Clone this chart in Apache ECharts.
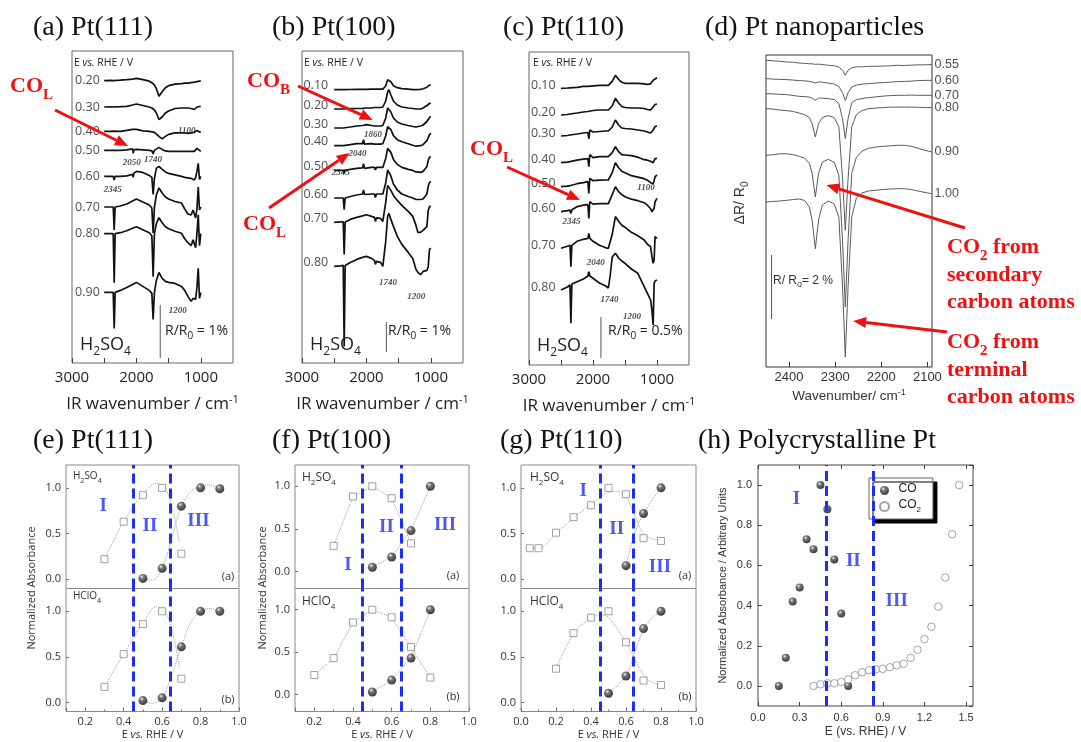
<!DOCTYPE html>
<html>
<head>
<meta charset="utf-8">
<script src="https://cdn.jsdelivr.net/npm/echarts@6/dist/echarts.min.js"></script>
<style>
html, body { margin: 0; padding: 0; background: #fff; }
#chart { width: 1081px; height: 742px; }
</style>
</head>
<body>
<div id="chart"></div>
<script>
// ---------------- (a) Pt(111) in H2SO4 : IR spectra ----------------
const aWavenumbers = [2500, 2400, 2360, 2345, 2330, 2250, 2150, 2060, 2050, 2040, 2000, 1900, 1800, 1760, 1740, 1720, 1690, 1650, 1600, 1550, 1500, 1400, 1300, 1250, 1200, 1150, 1120, 1100, 1080, 1060, 1040, 1020, 1000];
const aPotentials = ['0.20', '0.30', '0.40', '0.50', '0.60', '0.70', '0.80', '0.90'];
const aBaselines = [282.3, 256, 231.6, 212.6, 186.6, 156, 129.3, 70.6];
const aSpectra = [
  [0, 0.3, 0, 0, 0.2, 0.5, 1, 1.5, 1.8, 2, 2.3, 1, -0.5, -2, -3, -4.5, -8, -15.5, -11, -7, -5, -3.5, -3, -2.5, -2.5, -2, -1.5, -1.5, -1, -1, -0.5, -0.5, -0.5],
  [0, 0.2, 0, 0.3, 0, 0.3, 0.7, 2, 2.3, 2.7, 3, 1.5, 0, -1, -2, -3, -6, -12.5, -10, -6, -4, -1.5, -1, -1, -1, -1.5, -2, -2.5, -1.5, 0, 0.5, 0.5, 0.5],
  [0, 0, 0.3, -0.5, 0, 0, 1, 2, 0, 1.5, 2, 0.5, 0, -0.5, -1.5, -1, -2, -5, -7.5, -5, -3, -1.5, -1.5, -1.5, -2, -1.5, -1.5, -1, 0, 1, 0, -0.5, -0.5],
  [0, 0, 0, -0.5, 0, 0, 0.5, 1.5, -3, 0.5, 1, 0.5, 0, -0.5, -3.5, 0, 2, 3, 1, -0.5, -1, -1, -1, -1, -1, -1, -0.5, -1, 0, 2, 4, 0, -1],
  [0, 0, 0, -3.5, 0, 0, 0.5, 2, -1, 3, 5, 4, 1, -1, -18, -2, 8, 10, 7, 4.5, 3, 1.5, 0, -1, -1.5, -2, -2.5, -3.5, -1, 5, 13, -3, 0],
  [0, 0, 0, -23, 0, 1, 3, 6, 6.5, 7, 8, 5, 2, -1, -26, 0, 12, 19, 14, 10, 8, 5.5, 4, -2, -7, -8, -3, -4, -11, -2, 20, -3, 0],
  [0, 0, 0, -49, 0, 1, 3, 5.5, 6, 6.5, 7, 4, 1, -2, -43, 0, 10, 16, 11, 7, 5, 2.5, 0.5, -5, -9, -12, -6, -8, -14, 0, 19, -12, 0],
  [0, 0, 0, -36, 0, 2, 5, 8, 8.5, 9, 10, 6, 2, -1, -27, 0, 12, 20, 14, 11, 10, 9, 6, 2, -4, -9, -6, -5, -7, 5, 24, -6, 0]
];
const aBandNotes = [[2073, 200, '2050'], [1742, 203, '1740'], [2368, 173, '2345'], [1219, 232, '1100'], [1359, 52, '1200']];
const aScaleBar = [1630, 5, 58];

// ---------------- (b) Pt(100) in H2SO4 ----------------
const bWavenumbers = [2500, 2400, 2360, 2345, 2330, 2250, 2150, 2060, 2045, 2030, 2000, 1920, 1875, 1860, 1845, 1780, 1745, 1730, 1700, 1670, 1650, 1620, 1580, 1520, 1450, 1350, 1280, 1230, 1200, 1160, 1120, 1090, 1060, 1040, 1020, 1000];
const bPotentials = ['0.10', '0.20', '0.30', '0.40', '0.50', '0.60', '0.70', '0.80'];
const bBaselines = [273.3, 254, 235, 217.3, 192.6, 165, 140.6, 96.6];
const bSpectra = [
  [0, 0, 0, 0, 0, 0.2, 0.3, 0.3, 0.3, 0.3, 0.3, 0.5, 0.5, 0.5, 0.5, 0.5, 0.5, 1, 4, 10, 11.7, 8, 4, 2, 1, 0.5, 0, 0, 0, 0.3, 1, 1.5, 2.5, 3.5, 4.5, 5],
  [0, 0, 0, 0, 0, 0.3, 0.5, 0.7, 0.7, 0.7, 1, 1, 1.5, 1.5, 1.5, 1.5, 2, 3, 8, 17, 19.3, 14, 8, 4, 2, 1, 0.5, 0, 0, 0, 1, 2, 3.5, 4.5, 5.5, 6],
  [0, 0, 0, 0, 0.3, 1, 2, 2.5, 3, 3, 3.3, 2.5, 2, 0, 2, 2, 2.5, 3.5, 10, 20, 22, 16, 10, 6, 4, 2.5, 1.5, 1, 1.5, 2, 3, 4.5, 6.5, 8.5, 10.5, 11.7],
  [0, 0, 0, -0.5, 0, 1, 2, 2, 6, 1.5, 2, 2, 1.5, 0, 1.5, 1.5, 2, 3, 10, 19, 21, 16, 10, 6, 4, 2, 0.5, -0.5, -1, 0, 1, 3, 5, 8, 11, 12.7],
  [0, 0, 0, -2.7, 0, 1, 2, 2.5, 6.7, 2, 2.5, 3, 3, 0.5, 3, 3, 3, 4, 12, 22, 24, 18, 11, 6, 3, 1, 0, -1.5, -2, -2, -1, 0, 4, 10, 13, 14],
  [0, 0, 0, -11.7, 0, 1.5, 3, 4, 8, 3.5, 4, 4, 4, 0.5, 4, 4, 4, 5, 15, 28, 30, 22, 14, 8, 4, 1.5, 0, -1.5, -1.7, -1.5, -1, 0, 4, 12, 15.5, 16.7],
  [0, 0.5, 0.5, -32, 0.5, 3, 5, 6.5, 8, 7.5, 7.7, 6, 5, 1, 4.5, 4, 1, 2, 20, 37, 39, 32, 27, 22, 17, 11, 6, -3, -10, -10, -8, -9, -4, 12, 16, 16],
  [0, 0.5, 1, -80, 1, 4, 7, 9, 10, 10, 10, 8, 6, 2, 5, 4, 0, 2, 25, 50, 53, 47, 40, 30, 22, 14, 8, -3, -6, -8.3, -5, -6.7, -4, 0, 17, 18.3]
];
const bBandNotes = [[1897, 228, '1860'], [2140, 209, '2040'], [2399, 190, '2345'], [1665, 80, '1740'], [1224, 66, '1200']];
const bScaleBar = [1690, 11, 41];

// ---------------- (c) Pt(110) in H2SO4 ----------------
const cWavenumbers = [2500, 2400, 2360, 2345, 2330, 2250, 2150, 2080, 2065, 2050, 2000, 1900, 1800, 1760, 1745, 1730, 1700, 1650, 1600, 1550, 1500, 1400, 1300, 1200, 1150, 1100, 1080, 1060, 1045, 1030, 1000];
const cPotentials = ['0.10', '0.20', '0.30', '0.40', '0.50', '0.60', '0.70', '0.80'];
const cBaselines = [276.7, 250, 229, 202.3, 178.3, 153.3, 116.7, 75];
const cSpectra = [
  [0, 0.3, 0.5, 0.5, 0.5, 1, 2, 2, 1.5, 2, 2.5, 3, 3, 3, 3, 3.5, 7, 13, 9, 6, 5, 5, 5, 4.5, 4, 4.5, 6, 8, 9, 10, 10.5],
  [0, 0.5, 1, 1, 1, 2, 3, 3.5, 2, 4, 4.5, 5, 5, 5, 5, 5.5, 9, 16.7, 12, 8.5, 7.5, 7, 7, 6.5, 5.5, 5, 6, 8, 9.5, 10.5, 11],
  [0, 0.5, 1, 1, 1, 2, 3, 3.5, -3, 6, 4, 4.5, 5, 5, 5, 5.5, 9, 16, 11, 8, 7.5, 7, 6, 5, 4, 3, 4, 6, 8, 9.5, 10],
  [0, 0.5, 1, 1, 1.5, 2.5, 3.5, 4, -4, 8, 5, 6, 6, 6, 6, 6.5, 10, 16, 11, 8, 7.7, 7, 5.5, 3, 2.5, 1.5, -0.5, 0, 2, 4, 4.3],
  [0, 0.5, 1, 1, 1.5, 3, 4, 5, -6.7, 8.3, 6, 6.5, 6.7, 6.7, 6.7, 8, 14, 24, 19, 15.5, 14, 11, 9.5, 8, 6.5, 4, 3.3, 3, 6, 10, 11.7],
  [0, 1, 1.5, -1.7, 2, 5, 6.5, 7, -6.7, 10, 7.5, 8, 8, 8, 8, 10, 17, 25, 20, 17, 15, 12.5, 11, 9, 6.5, 3, 0, 1, 3.3, 10, 13.3],
  [0, 2, 3, -18.3, 3, 7, 9, 10, 15, 10, 7, 3, 0.5, 0, 0, 2, 14, 31.7, 27, 23, 21, 16, 12.5, 8.3, 4, 1.7, -8, -15, -11.7, 11.7, 10],
  [0, 3, 5, -33.3, 6, 8.3, 11, 14, 18.3, 14, 11.7, 7, 4, 2, 1.7, 15, 33, 36.7, 32, 29, 26.7, 21, 16.7, 3.3, -3.3, -10, -20, -35, 6.7, 9, 10]
];
const cBandNotes = [[1173, 177, '1100'], [2334, 143, '2345'], [1958, 102, '2040'], [1744, 65, '1740'], [1392, 48, '1200']];
const cScaleBar = [1876, 7, 48];

// ---------------- (d) Pt nanoparticles : CO2 band ----------------
const dWavenumbers = [2450, 2435, 2420, 2405, 2390, 2378, 2366, 2356, 2350, 2343, 2336, 2328, 2315, 2302, 2292, 2284, 2278, 2272, 2264, 2254, 2242, 2228, 2212, 2196, 2180, 2165, 2150, 2135, 2120, 2105, 2090];
const dPotentials = ['0.55', '0.60', '0.70', '0.80', '0.90', '1.00'];
const dBaselines = [306.7, 288.4, 273.4, 258.4, 211.7, 165];
const dSpectra = [
  [0, -0.5, -1, -1.7, -2, -2.8, -3, -3.5, -3.5, -4, -3.8, -4.2, -5, -5.5, -6.7, -10, -15, -10, -7.5, -6.5, -6.5, -6, -6, -5.7, -5.5, -5, -5.2, -4.8, -4.6, -4.5, -4.3],
  [0, -0.5, -0.8, -1, -1.5, -2, -2.3, -2.8, -3.3, -4.5, -3.3, -3.5, -4.5, -5.5, -8, -14, -22, -14, -8.5, -6.5, -5.5, -5, -4.5, -4, -3.5, -3, -2.8, -2.5, -2, -1.8, -1.7],
  [0, -0.3, -0.7, -1, -2, -2.7, -3, -3.5, -4.5, -6.7, -4.5, -4.5, -5, -6, -10, -25, -45, -25, -9, -6, -5, -4, -3.3, -2.5, -2, -1.7, -1.7, -1.5, -1.7, -1.7, -1.7],
  [0, -0.5, -1.5, -2, -3, -4.5, -6, -9, -15, -28.3, -15, -9, -7, -9, -18, -70, -121.7, -70, -18, -6, -2, 0, 0.5, 1, 1.5, 1.5, 1.5, 1.5, 1.3, 1, 1],
  [0, 0.5, 1.5, 1.5, 0.5, -1, -3, -8, -18, -41.7, -18, -7, -4, -7, -20, -85, -151.7, -85, -18, -2, 4, 7, 8.3, 9, 9.5, 10, 10, 9, 7, 5, 3.3],
  [0, 0.5, 1, 1.7, 2.5, 3, 1.5, -5, -18, -46.7, -18, -3, 1, -2, -15, -85, -155, -85, -15, 4, 9, 11, 11.7, 12.5, 13, 13.3, 13.3, 12.5, 11, 9.5, 8.3]
];
const dScaleBar = [2438, 48, 112];

// ---------------- (e) Pt(111) normalized absorbance ----------------
const eH2SO4Squares = [[0.3, 0.22], [0.4, 0.63], [0.5, 0.92], [0.6, 1.0], [0.7, 0.28]];
const eH2SO4Dots = [[0.5, 0.01], [0.6, 0.12], [0.7, 0.80], [0.8, 1.0], [0.9, 0.99]];
const eH2SO4SquareTrend = [[0.3, 0.22], [0.4, 0.63], [0.5, 0.93], [0.57, 1.05], [0.62, 0.98], [0.66, 0.72], [0.69, 0.4]];
const eH2SO4DotTrend = [[0.5, 0.01], [0.55, -0.01], [0.6, 0.12], [0.65, 0.45], [0.7, 0.8], [0.75, 0.96], [0.8, 1.02], [0.85, 1.03], [0.9, 0.99]];
const eHClO4Squares = [[0.3, 0.17], [0.4, 0.53], [0.5, 0.86], [0.6, 1.0], [0.7, 0.26]];
const eHClO4Dots = [[0.5, 0.02], [0.6, 0.05], [0.7, 0.61], [0.8, 1.0], [0.9, 1.0]];
const eHClO4SquareTrend = [[0.3, 0.17], [0.4, 0.53], [0.5, 0.87], [0.57, 1.05], [0.62, 0.98], [0.66, 0.72], [0.69, 0.38]];
const eHClO4DotTrend = [[0.5, 0.02], [0.55, -0.01], [0.6, 0.05], [0.65, 0.3], [0.7, 0.61], [0.75, 0.88], [0.8, 1.0], [0.85, 1.03], [0.9, 1.0]];
const eRegionLimits = [0.45, 0.64];

// ---------------- (f) Pt(100) ----------------
const fH2SO4Squares = [[0.3, 0.30], [0.4, 0.88], [0.5, 1.0], [0.6, 0.86], [0.7, 0.33]];
const fH2SO4Dots = [[0.5, 0.05], [0.6, 0.17], [0.7, 0.48], [0.8, 1.0]];
const fHClO4Squares = [[0.2, 0.23], [0.3, 0.43], [0.4, 0.85], [0.5, 1.0], [0.6, 0.91], [0.7, 0.56], [0.8, 0.2]];
const fHClO4Dots = [[0.5, 0.03], [0.6, 0.17], [0.7, 0.43], [0.8, 1.0]];
const fRegionLimits = [0.45, 0.65];

// ---------------- (g) Pt(110) ----------------
const gH2SO4Squares = [[0.05, 0.34], [0.1, 0.34], [0.2, 0.51], [0.3, 0.68], [0.4, 0.81], [0.5, 1.0], [0.6, 0.93], [0.7, 0.45], [0.8, 0.42]];
const gH2SO4Dots = [[0.6, 0.15], [0.7, 0.72], [0.8, 1.0]];
const gH2SO4SquareTrend = [[0.05, 0.34], [0.1, 0.34], [0.2, 0.5], [0.3, 0.67], [0.4, 0.82], [0.5, 0.95], [0.55, 0.96], [0.6, 0.9], [0.65, 0.7], [0.7, 0.5], [0.75, 0.44], [0.8, 0.42]];
const gH2SO4DotTrend = [[0.6, 0.15], [0.64, 0.44], [0.7, 0.72], [0.8, 1.0]];
const gHClO4Squares = [[0.2, 0.37], [0.3, 0.76], [0.4, 0.93], [0.5, 1.0], [0.6, 0.66], [0.7, 0.24], [0.8, 0.19]];
const gHClO4Dots = [[0.5, 0.10], [0.6, 0.29], [0.7, 0.81], [0.8, 1.0]];
const gHClO4SquareTrend = [[0.2, 0.37], [0.3, 0.75], [0.4, 0.93], [0.45, 0.96], [0.5, 0.93], [0.6, 0.66], [0.65, 0.48], [0.7, 0.3], [0.75, 0.22], [0.8, 0.19]];
const gHClO4DotTrend = [[0.5, 0.1], [0.6, 0.29], [0.65, 0.55], [0.7, 0.8], [0.75, 0.93], [0.8, 1.0]];
const gRegionLimits = [0.45, 0.64];

// ---------------- (h) Polycrystalline Pt ----------------
const hCOPotentials = [0.15, 0.20, 0.25, 0.30, 0.35, 0.40, 0.45, 0.50, 0.55, 0.60, 0.65];
const hCO = [0, 0.14, 0.42, 0.49, 0.73, 0.68, 1.0, 0.88, 0.63, 0.36, 0];
const hCO2Potentials = [0.40, 0.45, 0.50, 0.55, 0.60, 0.65, 0.70, 0.75, 0.80, 0.85, 0.90, 0.95, 1.00, 1.05, 1.10, 1.15, 1.20, 1.25, 1.30, 1.35, 1.40, 1.45];
const hCO2 = [0, 0.008, 0.013, 0.013, 0.02, 0.033, 0.053, 0.068, 0.078, 0.083, 0.085, 0.093, 0.103, 0.11, 0.14, 0.18, 0.233, 0.295, 0.395, 0.54, 0.755, 1.0];
const hRegionLimits = [0.49, 0.83];

// Region numerals (potential, normalized value, text)
const eRegionNames = [[0.294, 0.80, 'I'], [0.537, 0.58, 'II'], [0.789, 0.64, 'III']];
const fRegionNames = [[0.374, 0.07, 'I'], [0.573, 0.52, 'II'], [0.876, 0.55, 'III']];
const gRegionNames = [[0.356, 0.97, 'I'], [0.547, 0.55, 'II'], [0.794, 0.13, 'III']];
const hRegionNames = [[0.278, 0.93, 'I'], [0.687, 0.62, 'II'], [1.0, 0.42, 'III']];

// ====================================================================
const SANS = "'Open Sans', 'DejaVu Sans', sans-serif";
const ARIAL = "'Liberation Sans', Arial, sans-serif";
const SERIF = "'Liberation Serif', 'Times New Roman', serif";
const RED = '#ee1111';
const BLUE = '#1c2ef5';

const chart = echarts.init(document.getElementById('chart'), null, { renderer: 'canvas' });

const grids = [
  { left: 72,  top: 51,    width: 161, height: 312 },
  { left: 302, top: 51,    width: 161, height: 312 },
  { left: 529, top: 52,    width: 160, height: 313 },
  { left: 766, top: 55,    width: 166, height: 312 },
  { left: 66,  top: 465,   width: 173, height: 123.5 },
  { left: 66,  top: 588.5, width: 173, height: 123 },
  { left: 295, top: 465,   width: 174, height: 123.5 },
  { left: 295, top: 588.5, width: 174, height: 123 },
  { left: 521, top: 465,   width: 175, height: 123.5 },
  { left: 521, top: 588.5, width: 175, height: 123 },
  { left: 758, top: 465,   width: 215, height: 241 }
].map((g, i) => Object.assign({
  show: true, borderWidth: 1, backgroundColor: 'rgba(0,0,0,0)',
  borderColor: i < 3 ? '#666' : i === 3 ? '#333' : i === 10 ? '#444' : '#8a8a8a'
}, g));

function richSet(size, subSize, lift, base) {
  return {
    n: Object.assign({ fontSize: size, verticalAlign: 'bottom', padding: [0, 0, lift, 0] }, base),
    i: Object.assign({ fontSize: size, verticalAlign: 'bottom', padding: [0, 0, lift, 0], fontStyle: 'italic' }, base),
    s: Object.assign({ fontSize: subSize, verticalAlign: 'bottom', padding: [0, 0, 0, 0] }, base),
    p: Object.assign({ fontSize: subSize, verticalAlign: 'bottom', padding: [0, 0, lift + size * 0.45, 0] }, base)
  };
}

const NO_LINE = { show: false, onZero: false };
const xAxes = [];
const yAxes = [];
const series = [];

function textSeries(gi, items, label) {
  return {
    type: 'scatter', xAxisIndex: gi, yAxisIndex: gi, silent: true, clip: false, z: 6,
    symbol: 'circle', symbolSize: 1, itemStyle: { color: 'rgba(0,0,0,0)' },
    emphasis: { disabled: true },
    data: items.map(t => ({ value: [t[0], t[1]], label: { formatter: t[2] } })),
    label: Object.assign({ show: true, position: 'inside', color: '#222' }, label)
  };
}

// ---------- spectral panels ----------
function irXAxis(gi) {
  return {
    gridIndex: gi, type: 'value', min: 500, max: 3000, interval: 500, inverse: true,
    axisLine: NO_LINE, splitLine: { show: false },
    axisTick: { show: true, inside: true, length: 5, lineStyle: { color: '#444' } },
    axisLabel: {
      margin: 7, fontSize: 15, fontFamily: SANS, color: '#222', showMaxLabel: true, showMinLabel: false,
      formatter: v => (v % 1000 === 0 ? String(v) : '')
    },
    name: '{n|IR wavenumber / cm}{p|-1}', nameLocation: 'middle', nameGap: 31,
    nameTextStyle: { rich: richSet(17, 11, 0, { fontFamily: SANS, color: '#222' }) }
  };
}

function spectraPanel(gi, wn, potentials, baselines, spectra, cfg) {
  spectra.forEach((sig, i) => {
    series.push({
      type: 'line', name: potentials[i], xAxisIndex: gi, yAxisIndex: gi,
      data: wn.map((w, k) => [w, baselines[i] + sig[k]]),
      symbol: 'none', silent: true, clip: false, z: 3,
      lineStyle: { color: cfg.color, width: cfg.width }
    });
  });
  const labels = potentials.map((p, i) => cfg.labelsRight
    ? [wn[wn.length - 1], baselines[i] + spectra[i][spectra[i].length - 1], p]
    : [cfg.labelAt, baselines[i] + cfg.labelLift, p]);
  series.push(textSeries(gi, labels, {
    position: cfg.labelsRight ? 'right' : 'left', distance: cfg.labelsRight ? 2 : 1,
    fontSize: cfg.labelSize, fontFamily: cfg.font, color: '#222'
  }));
  series.push({
    type: 'line', xAxisIndex: gi, yAxisIndex: gi, silent: true, symbol: 'none', z: 3,
    data: [[cfg.bar[0], cfg.bar[1]], [cfg.bar[0], cfg.bar[2]]],
    lineStyle: { color: '#555', width: 1 }
  });
  if (cfg.notes) {
    series.push(textSeries(gi, cfg.notes, {
      fontSize: 9, fontFamily: SERIF, fontStyle: 'italic', fontWeight: 'bold', color: '#222'
    }));
  }
}

[0, 1, 2].forEach(gi => xAxes.push(irXAxis(gi)));
xAxes.push({
  gridIndex: 3, type: 'value', min: 2090, max: 2450, inverse: true, splitNumber: 4,
  axisLine: NO_LINE, splitLine: { show: false },
  axisTick: { inside: true, length: 5, lineStyle: { color: '#333' } },
  axisLabel: {
    margin: 4, fontSize: 13, fontFamily: ARIAL, color: '#333', showMinLabel: false, showMaxLabel: false,
    formatter: v => String(Math.round(v))
  },
  name: '{n|Wavenumber/ cm}{p|-1}', nameLocation: 'middle', nameGap: 21,
  nameTextStyle: { rich: richSet(13.5, 9, 0, { fontFamily: ARIAL, color: '#333' }) }
});
[312, 312, 313, 312].forEach((h, gi) => yAxes.push({ gridIndex: gi, type: 'value', min: 0, max: h, show: false }));

spectraPanel(0, aWavenumbers, aPotentials, aBaselines, aSpectra,
  { color: '#111', width: 1.7, labelAt: 2545, labelLift: 0, labelSize: 12.5, font: SANS, bar: aScaleBar, notes: aBandNotes });
spectraPanel(1, bWavenumbers, bPotentials, bBaselines, bSpectra,
  { color: '#111', width: 1.7, labelAt: 2570, labelLift: 4, labelSize: 12.5, font: SANS, bar: bScaleBar, notes: bBandNotes });
spectraPanel(2, cWavenumbers, cPotentials, cBaselines, cSpectra,
  { color: '#111', width: 1.7, labelAt: 2560, labelLift: 3, labelSize: 12.5, font: SANS, bar: cScaleBar, notes: cBandNotes });
spectraPanel(3, dWavenumbers, dPotentials, dBaselines, dSpectra,
  { color: '#5a5a5a', width: 1, labelsRight: true, labelSize: 12.5, font: ARIAL, bar: dScaleBar });

// ---------- normalized absorbance panels ----------
const BALL = {
  type: 'radial', x: 0.38, y: 0.32, r: 0.75,
  colorStops: [{ offset: 0, color: '#eeeeee' }, { offset: 0.3, color: '#555' }, { offset: 1, color: '#000' }]
};

function ratioX(gi, withLabels, min, showMin) {
  return {
    gridIndex: gi, type: 'value', min: min, max: 1.0, splitNumber: 5,
    axisLine: NO_LINE, splitLine: { show: false },
    axisTick: { show: withLabels, inside: true, length: 4, lineStyle: { color: '#777' } },
    minorTick: { show: withLabels, splitNumber: 2, length: 2, lineStyle: { color: '#777' } },
    axisLabel: {
      show: withLabels, showMinLabel: showMin, showMaxLabel: true, formatter: v => v.toFixed(1),
      fontSize: 11, fontFamily: SANS, color: '#333', margin: 5
    },
    name: withLabels ? '{n|E }{i|vs.}{n| RHE / V}' : '', nameLocation: 'middle', nameGap: 18,
    nameTextStyle: { rich: richSet(11, 8, 0, { fontFamily: SANS, color: '#333' }) }
  };
}
function ratioY(gi, min, max) {
  return {
    gridIndex: gi, type: 'value', min: min, max: max, splitNumber: 3,
    axisLine: NO_LINE, splitLine: { show: false },
    axisTick: { inside: true, length: 3, lineStyle: { color: '#777' } },
    axisLabel: {
      showMinLabel: false, showMaxLabel: false, formatter: v => v.toFixed(1),
      fontSize: 11, fontFamily: SANS, color: '#333', margin: 5
    }
  };
}
function trend(gi, data, smooth) {
  return {
    type: 'line', xAxisIndex: gi, yAxisIndex: gi, data: data, smooth: smooth ? 0.35 : false,
    symbol: 'none', silent: true, z: 2, lineStyle: { color: '#9a9a9a', width: 1, type: 'dotted' }
  };
}
function squares(gi, data) {
  return {
    type: 'scatter', xAxisIndex: gi, yAxisIndex: gi, data: data, symbol: 'rect', symbolSize: 7,
    silent: true, z: 4, itemStyle: { color: '#fff', borderColor: '#8a8a8a', borderWidth: 1 }
  };
}
function balls(gi, data, size, name) {
  return {
    type: 'scatter', name: name, xAxisIndex: gi, yAxisIndex: gi, data: data, symbol: 'circle',
    symbolSize: size, silent: true, z: 4, itemStyle: { color: BALL }
  };
}
function limits(gi, xs) {
  return {
    type: 'line', xAxisIndex: gi, yAxisIndex: gi, data: [], silent: true, z: 5,
    markLine: {
      silent: true, symbol: ['none', 'none'], label: { show: false }, animation: false,
      lineStyle: { color: BLUE, width: 3, type: [10, 5] },
      data: xs.map(v => ({ xAxis: v }))
    }
  };
}
function numerals(gi, items) {
  return textSeries(gi, items, { fontSize: 19, fontFamily: SERIF, fontWeight: 'bold', color: BLUE });
}

// (e)
xAxes.push(ratioX(4, false, 0.1, false)); yAxes.push(ratioY(4, -0.1, 1.25));
xAxes.push(ratioX(5, true, 0.1, false));  yAxes.push(ratioY(5, -0.1, 1.25));
// (f)
xAxes.push(ratioX(6, false, 0.1, false)); yAxes.push(ratioY(6, -0.2, 1.25));
xAxes.push(ratioX(7, true, 0.1, false));  yAxes.push(ratioY(7, -0.2, 1.25));
// (g)
xAxes.push(ratioX(8, false, 0, true)); yAxes.push(ratioY(8, -0.1, 1.25));
xAxes.push(ratioX(9, true, 0, true));  yAxes.push(ratioY(9, -0.1, 1.25));

series.push(
  trend(4, eH2SO4SquareTrend, true), trend(4, eH2SO4DotTrend, true),
  limits(4, eRegionLimits), squares(4, eH2SO4Squares), balls(4, eH2SO4Dots, 9), numerals(4, eRegionNames),
  trend(5, eHClO4SquareTrend, true), trend(5, eHClO4DotTrend, true),
  limits(5, eRegionLimits), squares(5, eHClO4Squares), balls(5, eHClO4Dots, 9),

  trend(6, fH2SO4Squares, false), trend(6, fH2SO4Dots, false),
  limits(6, fRegionLimits), squares(6, fH2SO4Squares), balls(6, fH2SO4Dots, 9), numerals(6, fRegionNames),
  trend(7, fHClO4Squares, false), trend(7, fHClO4Dots, false),
  limits(7, fRegionLimits), squares(7, fHClO4Squares), balls(7, fHClO4Dots, 9),

  trend(8, gH2SO4SquareTrend, true), trend(8, gH2SO4DotTrend, true),
  limits(8, gRegionLimits), squares(8, gH2SO4Squares), balls(8, gH2SO4Dots, 9), numerals(8, gRegionNames),
  trend(9, gHClO4SquareTrend, true), trend(9, gHClO4DotTrend, true),
  limits(9, gRegionLimits), squares(9, gHClO4Squares), balls(9, gHClO4Dots, 9)
);

// (h)
const hTick = { inside: true, length: 4, lineStyle: { color: '#444' } };
xAxes.push({
  gridIndex: 10, type: 'value', min: 0, max: 1.55, interval: 0.3,
  axisLine: NO_LINE, splitLine: { show: false }, axisTick: hTick,
  axisLabel: { showMaxLabel: false, formatter: v => v.toFixed(1), fontSize: 11, fontFamily: ARIAL, color: '#333', margin: 6 },
  name: 'E (vs. RHE) / V', nameLocation: 'middle', nameGap: 20,
  nameTextStyle: { fontSize: 12, fontFamily: ARIAL, color: '#333' }
});
yAxes.push({
  gridIndex: 10, type: 'value', min: -0.1, max: 1.1, splitNumber: 6,
  axisLine: NO_LINE, splitLine: { show: false }, axisTick: hTick,
  axisLabel: { showMinLabel: false, showMaxLabel: false, formatter: v => v.toFixed(1), fontSize: 11, fontFamily: ARIAL, color: '#333', margin: 6 },
  name: 'Normalized Absorbance / Arbitrary Units', nameLocation: 'middle', nameGap: 30,
  nameTextStyle: { fontSize: 11, fontFamily: ARIAL, color: '#333' }
});
xAxes.push({
  gridIndex: 10, type: 'value', position: 'top', min: 0, max: 1.55, interval: 0.3,
  axisLine: NO_LINE, splitLine: { show: false }, axisTick: hTick, axisLabel: { show: false }
});
yAxes.push({
  gridIndex: 10, type: 'value', position: 'right', min: -0.1, max: 1.1, splitNumber: 6,
  axisLine: NO_LINE, splitLine: { show: false }, axisTick: hTick, axisLabel: { show: false }
});
series.push(
  limits(10, hRegionLimits),
  balls(10, hCOPotentials.map((e, i) => [e, hCO[i]]), 8, 'CO'),
  {
    type: 'scatter', name: 'CO2', xAxisIndex: 10, yAxisIndex: 10, symbol: 'circle', symbolSize: 7.5,
    silent: true, z: 4, itemStyle: { color: '#fff', borderColor: '#8c8c8c', borderWidth: 1 },
    data: hCO2Potentials.map((e, i) => [e, hCO2[i]])
  },
  numerals(10, hRegionNames)
);

chart.setOption({
  animation: false,
  grid: grids,
  xAxis: xAxes,
  yAxis: yAxes,
  series: series,
  legend: {
    show: true, left: 869, top: 478, orient: 'vertical', data: ['CO', 'CO2'], selectedMode: false,
    formatter: n => (n === 'CO2' ? '{n|CO}{s|2}' : '{n|CO}'),
    textStyle: { rich: richSet(12, 8, 3, { fontFamily: ARIAL, color: '#222' }) },
    itemWidth: 18, itemHeight: 9, itemGap: 4, padding: [5, 12, 5, 10],
    backgroundColor: '#fff', borderColor: '#666', borderWidth: 1,
    shadowColor: '#000', shadowOffsetX: 4, shadowOffsetY: 4, shadowBlur: 0
  }
});

// ---------- titles, notes and arrows ----------
const graphics = [];
function addText(x, y, text, rich, extra, base) {
  graphics.push(Object.assign({
    type: 'text', x: x, y: y, silent: true, z: 50,
    style: Object.assign({
      text: text, rich: rich, align: 'left', verticalAlign: 'middle',
      textAlign: 'left', textVerticalAlign: 'middle'
    }, base || {})
  }, extra || {}));
}
const titleRich = richSet(28, 18, 0, { fontFamily: SERIF, fill: '#111', color: '#111' });
[[33, 28, '(a) Pt(111)'], [272, 28, '(b) Pt(100)'], [503, 28, '(c) Pt(110)'], [705, 28, '(d) Pt nanoparticles'],
 [33, 441, '(e) Pt(111)'], [272, 441, '(f) Pt(100)'], [500, 441, '(g) Pt(110)'], [698, 441, '(h) Polycrystalline Pt']]
  .forEach(t => addText(t[0], t[1], '{n|' + t[2] + '}', titleRich));

const smallRich = richSet(10.5, 8, 0, { fontFamily: SANS, fill: '#222', color: '#222' });
[[74, 63], [304, 63], [533, 63]].forEach(p => addText(p[0], p[1], '{n|E }{i|vs.}{n| RHE / V}', smallRich));

const acidRich = richSet(18, 12, 4, { fontFamily: SANS, fill: '#222', color: '#222' });
[[80, 347], [310, 347], [537, 348]].forEach(p => addText(p[0], p[1], '{n|H}{s|2}{n|SO}{s|4}', acidRich));

const barRich = richSet(14, 10, 3, { fontFamily: SANS, fill: '#222', color: '#222' });
addText(165, 333, '{n|R/R}{s|0}{n| = 1%}', barRich);
addText(388, 333, '{n|R/R}{s|0}{n| = 1%}', barRich);
addText(608, 333, '{n|R/R}{s|0}{n| = 0.5%}', barRich);

const dRich = richSet(12, 9, 3, { fontFamily: ARIAL, fill: '#333', color: '#333' });
addText(773, 282, '{n|R/ R}{s|o}{n|= 2 %}', dRich);
addText(742, 203, '{n|ΔR/ R}{s|0}', richSet(14, 10, 3, { fontFamily: ARIAL, fill: '#333', color: '#333' }),
  { rotation: Math.PI / 2 }, { align: 'center', textAlign: 'center' });

const redRich = richSet(22, 15, 5, { fontFamily: SERIF, fontWeight: 'bold', fill: RED, color: RED });
addText(10, 89, '{n|CO}{s|L}', redRich);
addText(247, 84, '{n|CO}{s|B}', redRich);
addText(243, 227, '{n|CO}{s|L}', redRich);
addText(470, 152, '{n|CO}{s|L}', redRich);
[[250, '{n|CO}{s|2}{n| from}'], [278, '{n|secondary}'], [305, '{n|carbon atoms}'],
 [345, '{n|CO}{s|2}{n| from}'], [373, '{n|terminal}'], [400, '{n|carbon atoms}']]
  .forEach(t => addText(947, t[0], t[1], redRich));

const axisNameRich = richSet(11, 8, 0, { fontFamily: SANS, fill: '#333', color: '#333' });
[[32, 588], [263, 588]].forEach(p => addText(p[0], p[1], '{n|Normalized Absorbance}', axisNameRich,
  { rotation: Math.PI / 2 }, { align: 'center', textAlign: 'center' }));

const tagRich = richSet(10, 7, 3, { fontFamily: SANS, fill: '#333', color: '#333' });
const tagRichF = richSet(12, 8, 3, { fontFamily: SANS, fill: '#333', color: '#333' });
addText(73, 478, '{n|H}{s|2}{n|SO}{s|4}', tagRich);
addText(73, 598, '{n|HClO}{s|4}', tagRich);
addText(302, 479, '{n|H}{s|2}{n|SO}{s|4}', tagRichF);
addText(302, 603, '{n|HClO}{s|4}', tagRichF);
addText(530, 479, '{n|H}{s|2}{n|SO}{s|4}', tagRichF);
addText(530, 603, '{n|HClO}{s|4}', tagRichF);
[[228, 577, '(a)'], [228, 700, '(b)'], [453, 576, '(a)'], [453, 697, '(b)'], [685, 576, '(a)'], [685, 697, '(b)']]
  .forEach(t => addText(t[0], t[1], '{n|' + t[2] + '}', richSet(11, 8, 0, { fontFamily: SANS, fill: '#333', color: '#333' }),
    null, { align: 'center', textAlign: 'center' }));

// red arrows: tail next to the note, head on the spectral feature (data coordinates)
const arrowSpecs = [
  { grid: 0, tail: [55, 110], tip: [2130, 217] },
  { grid: 1, tail: [298, 86], tip: [1902, 243] },
  { grid: 1, tail: [269, 208], tip: [2259, 210] },
  { grid: 2, tail: [507, 167], tip: [2204, 165] },
  { grid: 3, tail: [965, 228], tip: [2319, 182] },
  { grid: 3, tail: [947, 332], tip: [2261, 46] }
];
arrowSpecs.forEach(a => {
  const to = chart.convertToPixel({ gridIndex: a.grid }, a.tip);
  const from = a.tail;
  const dx = to[0] - from[0], dy = to[1] - from[1];
  const len = Math.hypot(dx, dy), ux = dx / len, uy = dy / len;
  const hl = 13, hw = 5.5;
  const bx = to[0] - ux * hl, by = to[1] - uy * hl;
  graphics.push({ type: 'line', silent: true, z: 60, shape: { x1: from[0], y1: from[1], x2: bx, y2: by }, style: { stroke: RED, lineWidth: 3 } });
  graphics.push({ type: 'polygon', silent: true, z: 60, shape: { points: [[to[0], to[1]], [bx - uy * hw, by + ux * hw], [bx + uy * hw, by - ux * hw]] }, style: { fill: RED } });
});

chart.setOption({ graphic: { elements: graphics } });
</script>
</body>
</html>
